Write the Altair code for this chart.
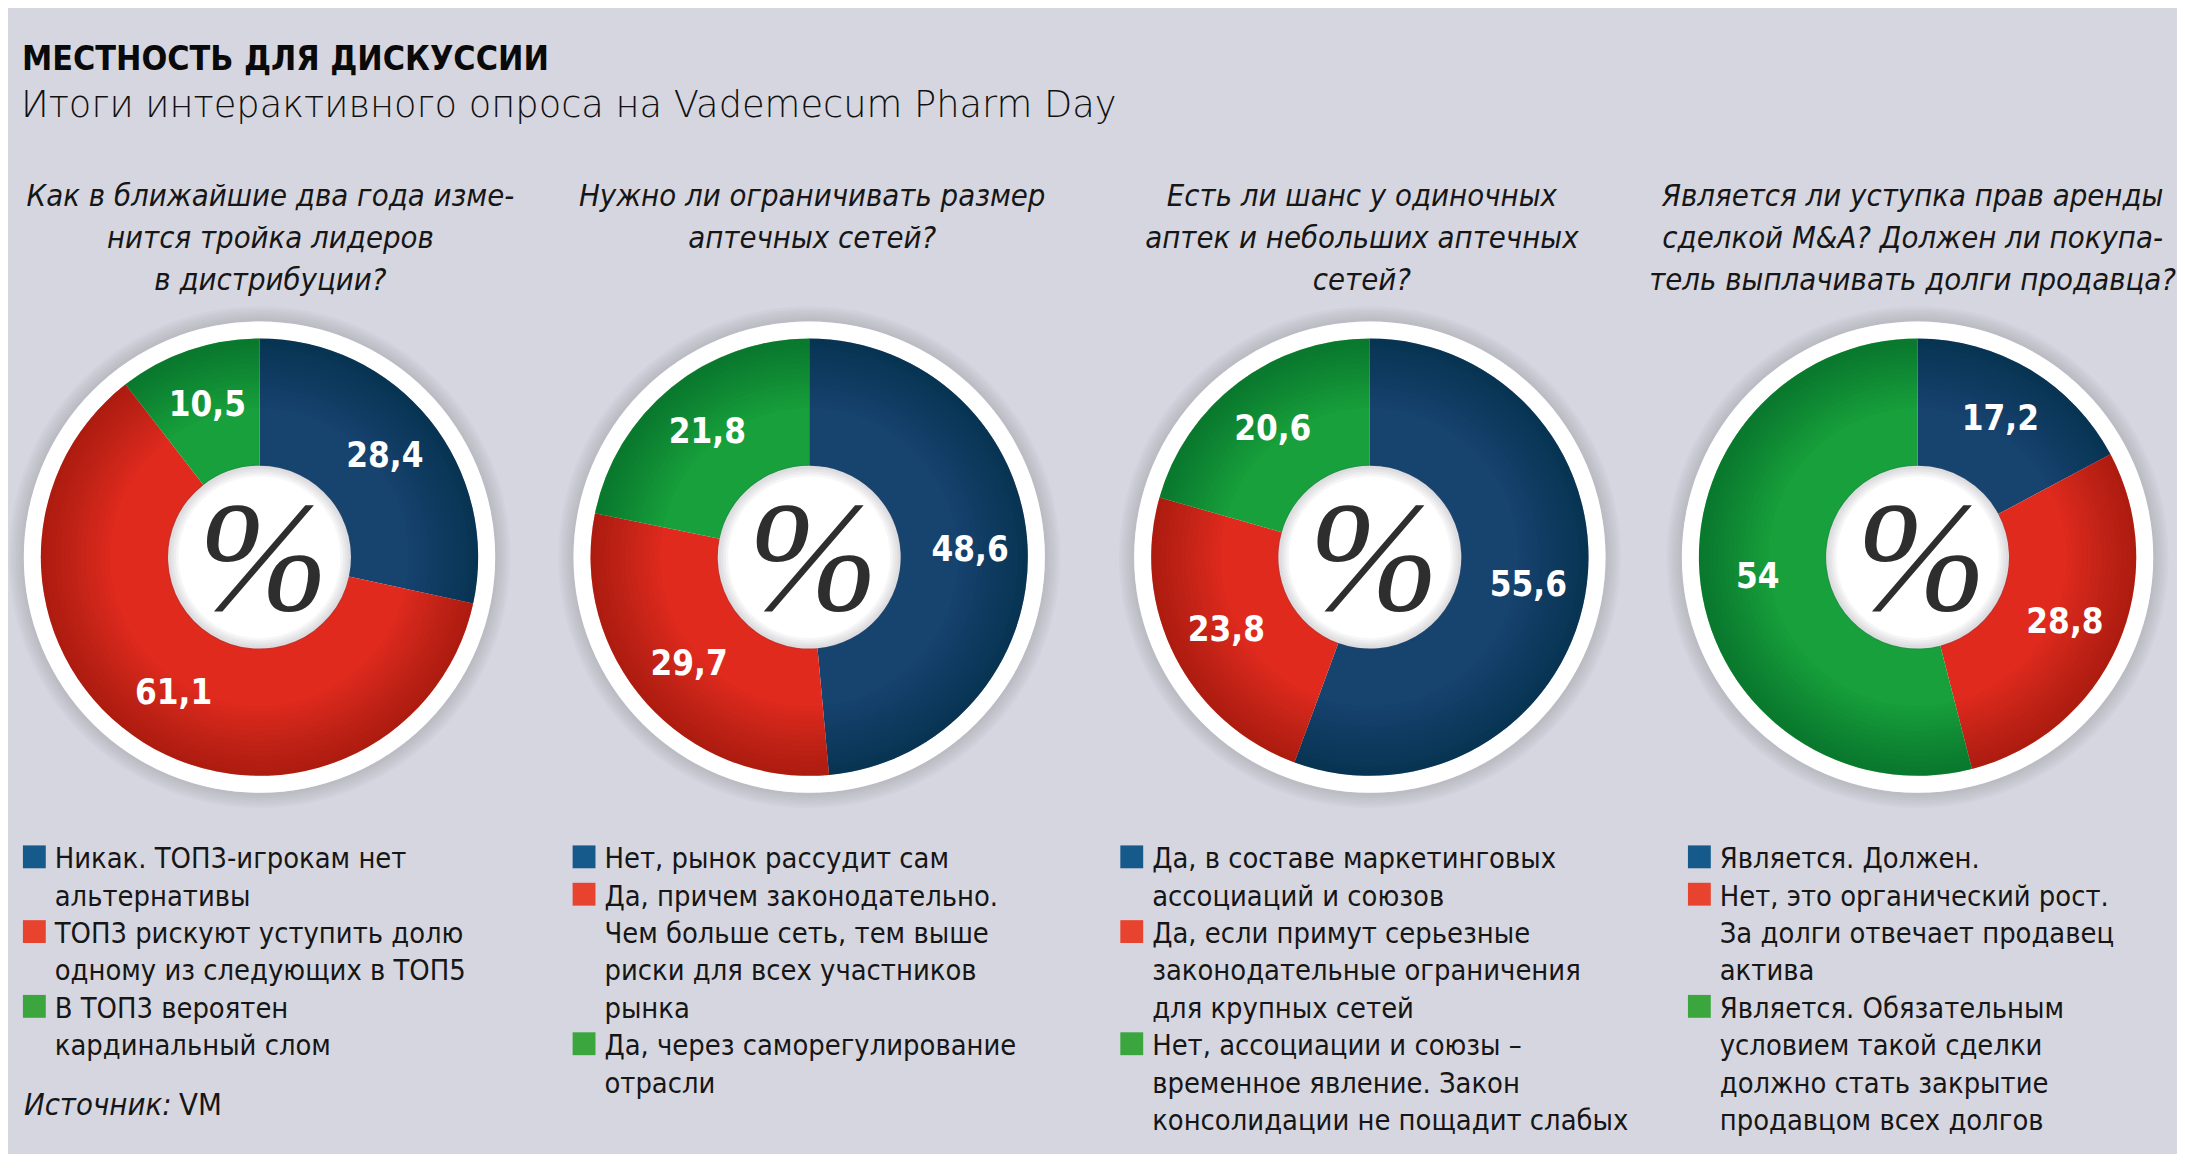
import math
import altair as alt
import pandas as pd

# ---------------- data ----------------
TITLE = "МЕСТНОСТЬ ДЛЯ ДИСКУССИИ"
SUBTITLE = "Итоги интерактивного опроса на Vademecum Pharm Day"
SOURCE_LABEL = "Источник:"
SOURCE_NAME = "VM"

questions = [
    ["Как в ближайшие два года изме-", "нится тройка лидеров", "в дистрибуции?"],
    ["Нужно ли ограничивать размер", "аптечных сетей?"],
    ["Есть ли шанс у одиночных", "аптек и небольших аптечных", "сетей?"],
    ["Является ли уступка прав аренды", "сделкой M&A? Должен ли покупа-", "тель выплачивать долги продавца?"],
]

# values per question: [blue, red, green]
values_q1 = [28.4, 61.1, 10.5]
values_q2 = [48.6, 29.7, 21.8]
values_q3 = [55.6, 23.8, 20.6]
values_q4 = [17.2, 28.8, 54]
values = [values_q1, values_q2, values_q3, values_q4]

answers_q1 = [["Никак. ТОП3-игрокам нет", "альтернативы"],
              ["ТОП3 рискуют уступить долю", "одному из следующих в ТОП5"],
              ["В ТОП3 вероятен", "кардинальный слом"]]
answers_q2 = [["Нет, рынок рассудит сам"],
              ["Да, причем законодательно.", "Чем больше сеть, тем выше", "риски для всех участников", "рынка"],
              ["Да, через саморегулирование", "отрасли"]]
answers_q3 = [["Да, в составе маркетинговых", "ассоциаций и союзов"],
              ["Да, если примут серьезные", "законодательные ограничения", "для крупных сетей"],
              ["Нет, ассоциации и союзы –", "временное явление. Закон", "консолидации не пощадит слабых"]]
answers_q4 = [["Является. Должен."],
              ["Нет, это органический рост.", "За долги отвечает продавец", "актива"],
              ["Является. Обязательным", "условием такой сделки", "должно стать закрытие", "продавцом всех долгов"]]
answers = [answers_q1, answers_q2, answers_q3, answers_q4]

KEYS = ["blue", "red", "green"]

# ---------------- styles / layout ----------------
W, H = 2169, 1146
BG = "#d6d6e0"
INK = "#161616"
PIE_COLORS = ["#16446f", "#e02a1e", "#17a03b"]
LEG_COLORS = ["#155a8a", "#e8432e", "#3ba53e"]
COND = "DejaVu Sans Condensed, DejaVu Sans, sans-serif"

PIE_X = [247, 800, 1364, 1915]
PIE_Y = 549
R_RING = 237
R_OUT = 220
R_IN = 92
R_LABEL = 162

Q_X = [258, 803, 1356, 1910]
Q_Y0 = 196
Q_DY = 42

LEG_X = [41, 594, 1145, 1716]
LEG_Y0 = 862
LEG_DY = 37.6
SQ = 23

layers = []

centers = pd.DataFrame({"cx": PIE_X, "cy": [PIE_Y] * 4})


def ring(r_out, r_in, color, opacity):
    return alt.Chart(centers).mark_arc(
        theta=0, theta2=2 * math.pi, outerRadius=r_out, innerRadius=r_in,
        color=color, opacity=opacity, strokeWidth=0
    ).encode(x=alt.X("cx:Q", scale=None), y=alt.Y("cy:Q", scale=None))


# soft drop shadow around the white ring
for k in range(6):
    layers.append(ring(R_RING + 3 + k * 2.5, R_RING, "#000000", 0.02))
# white disk
layers.append(ring(R_RING, 0, "#ffffff", 1))

# pies
pie_dfs = []
for qi, vals in enumerate(values):
    df = pd.DataFrame({
        "idx": [0, 1, 2],
        "key": KEYS,
        "value": vals,
        "label": [f"{v:g}".replace(".", ",") for v in vals],
    })
    pie_dfs.append(df)
    layers.append(
        alt.Chart(df).mark_arc(innerRadius=R_IN, outerRadius=R_OUT, stroke=None).encode(
            theta=alt.Theta("value:Q", stack=True),
            order=alt.Order("idx:Q"),
            color=alt.Color("key:N", scale=alt.Scale(domain=KEYS, range=PIE_COLORS), legend=None),
            x=alt.value(PIE_X[qi]),
            y=alt.value(PIE_Y),
        )
    )

# smooth radial darkening toward the outer edge of the coloured ring
for k in range(14):
    layers.append(ring(R_OUT, 150 + k * 5, "#000000", 0.015))
# soft rim inside the white hole
for k in range(4):
    layers.append(ring(R_IN + 1, R_IN - 3 - k * 2.5, "#6a6a70", 0.06))

# value labels
for qi, df in enumerate(pie_dfs):
    layers.append(
        alt.Chart(df).mark_text(
            radius=R_LABEL, font=COND, fontSize=35, fontWeight="bold", color="white",
            align="center", baseline="middle"
        ).encode(
            theta=alt.Theta("value:Q", stack=True),
            order=alt.Order("idx:Q"),
            detail="key:N",
            text="label:N",
            x=alt.value(PIE_X[qi]),
            y=alt.value(PIE_Y),
        )
    )

# percent sign in the hole
layers.append(
    alt.Chart(centers).mark_text(
        font="Liberation Serif, Times New Roman, serif", fontStyle="italic", fontSize=158,
        color="#2e2e2e", align="center", baseline="alphabetic", dy=53, dx=4
    ).encode(x=alt.X("cx:Q", scale=None), y=alt.Y("cy:Q", scale=None), text=alt.value("%"))
)

# title and subtitle
layers.append(
    alt.Chart(pd.DataFrame({"t": [TITLE]})).mark_text(
        font=COND, fontSize=34, fontWeight="bold", color="#0a0a0a", align="left", baseline="alphabetic"
    ).encode(x=alt.value(8), y=alt.value(59), text="t:N")
)
layers.append(
    alt.Chart(pd.DataFrame({"t": [SUBTITLE]})).mark_text(
        font="DejaVu Sans, sans-serif", fontSize=37, fontWeight=300, color="#111111",
        align="left", baseline="alphabetic"
    ).encode(x=alt.value(7), y=alt.value(106), text="t:N")
)

# questions
q_rows = []
for qi, lines in enumerate(questions):
    for li, line in enumerate(lines):
        q_rows.append({"x": Q_X[qi], "y": Q_Y0 + li * Q_DY, "text": line})
layers.append(
    alt.Chart(pd.DataFrame(q_rows)).mark_text(
        font=COND, fontSize=31, fontStyle="italic", color=INK, align="center", baseline="alphabetic"
    ).encode(x=alt.X("x:Q", scale=None), y=alt.Y("y:Q", scale=None), text="text:N")
)

# legends
leg_rows = []
sq_rows = []
for qi, items in enumerate(answers):
    line_no = 0
    for ai, item in enumerate(items):
        base_y = LEG_Y0 + line_no * LEG_DY
        sq_rows.append({
            "x": LEG_X[qi] - 32, "x2": LEG_X[qi] - 32 + SQ,
            "y": base_y - SQ, "y2": base_y, "c": LEG_COLORS[ai],
        })
        for line in item:
            leg_rows.append({"x": LEG_X[qi], "y": LEG_Y0 + line_no * LEG_DY, "text": line})
            line_no += 1

layers.append(
    alt.Chart(pd.DataFrame(sq_rows)).mark_rect().encode(
        x=alt.X("x:Q", scale=None), x2="x2:Q",
        y=alt.Y("y:Q", scale=None), y2="y2:Q",
        color=alt.Color("c:N", scale=None, legend=None),
    )
)
layers.append(
    alt.Chart(pd.DataFrame(leg_rows)).mark_text(
        font=COND, fontSize=29, color=INK, align="left", baseline="alphabetic"
    ).encode(x=alt.X("x:Q", scale=None), y=alt.Y("y:Q", scale=None), text="text:N")
)

# source
layers.append(
    alt.Chart(pd.DataFrame({"t": [SOURCE_LABEL]})).mark_text(
        font=COND, fontSize=31, fontStyle="italic", color=INK, align="left", baseline="alphabetic"
    ).encode(x=alt.value(10), y=alt.value(1110), text="t:N")
)
layers.append(
    alt.Chart(pd.DataFrame({"t": [SOURCE_NAME]})).mark_text(
        font=COND, fontSize=31, color=INK, align="left", baseline="alphabetic"
    ).encode(x=alt.value(166), y=alt.value(1110), text="t:N")
)

chart = alt.layer(*layers).resolve_scale(
    theta="independent", color="independent"
).properties(
    width=W, height=H, padding=0, background=BG
).configure_view(stroke=None)

chart.save("out.html", embed_options={"renderer": "svg", "actions": False})
